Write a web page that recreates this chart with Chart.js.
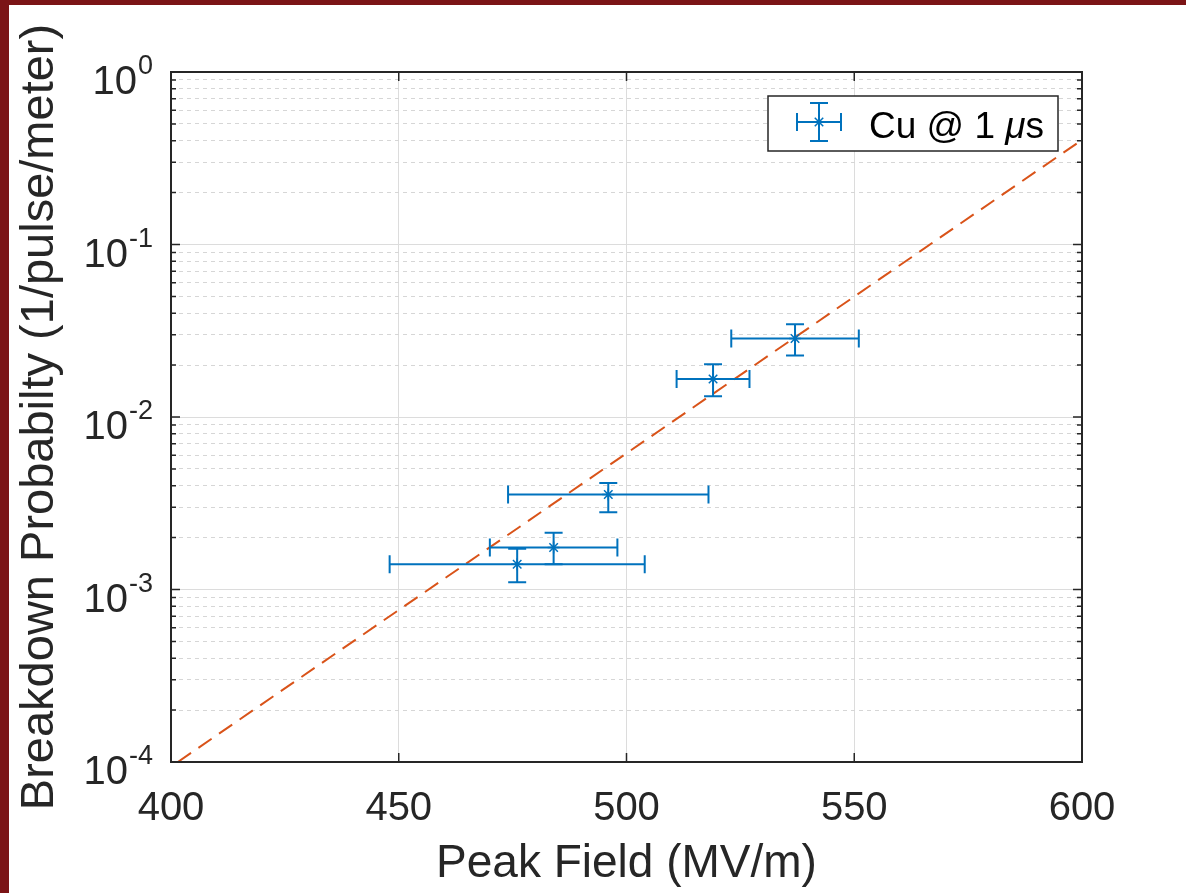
<!DOCTYPE html>
<html><head><meta charset="utf-8">
<script src="https://cdn.jsdelivr.net/npm/chart.js@4.4.1/dist/chart.umd.min.js"></script>
<style>
html,body{margin:0;padding:0;background:#fff;}
#wrap{position:absolute;left:0;top:0;width:1186px;height:893px;box-sizing:border-box;border-left:9px solid #7b1416;border-top:5px solid #7b1416;background:#fff;}
#c{display:block;}
</style></head><body>
<div id="wrap"><canvas id="c" width="1177" height="888"></canvas></div>
<script>
// ---- data ----
const peakField     = [476, 484, 496, 519, 537];
const breakdownProb = [1.40e-3, 1.75e-3, 3.55e-3, 1.66e-2, 2.85e-2];
const fieldLow      = [448, 470, 474, 511, 523];
const fieldHigh     = [504, 498, 518, 527, 551];
const probLow       = [1.10e-3, 1.40e-3, 2.80e-3, 1.32e-2, 2.27e-2];
const probHigh      = [1.72e-3, 2.13e-3, 4.15e-3, 2.02e-2, 3.45e-2];
const fitField      = [401.5, 600];
const fitProb       = [1e-4, 0.404];
const xTickValues   = [400, 450, 500, 550, 600];
const yDecadeExps   = [-4, -3, -2, -1, 0];
const seriesLabel   = 'Cu @ 1 ';
const xTitle = 'Peak Field (MV/m)';
const yTitle = 'Breakdown Probabilty (1/pulse/meter)';

const FONT = '"Liberation Sans", Arial, sans-serif';
const AX = '#262626';
const BLUE = '#0072BD';
const ORANGE = '#D95319';

function isMajor(v){ const l = Math.log10(v); return Math.abs(l - Math.round(l)) < 1e-9; }

const matlabPlugin = {
  id: 'matlab',
  afterDatasetsDraw(chart){
    const {ctx, scales:{x, y}} = chart;
    ctx.save();
    ctx.strokeStyle = BLUE; ctx.lineWidth = 2; ctx.lineCap = 'butt';
    const cap = 9;
    for (let i = 0; i < peakField.length; i++){
      const px = x.getPixelForValue(peakField[i]), py = y.getPixelForValue(breakdownProb[i]);
      const xl = x.getPixelForValue(fieldLow[i]), xh = x.getPixelForValue(fieldHigh[i]);
      const yl = y.getPixelForValue(probLow[i]), yh = y.getPixelForValue(probHigh[i]);
      ctx.beginPath();
      ctx.moveTo(xl, py); ctx.lineTo(xh, py);
      ctx.moveTo(xl, py - cap); ctx.lineTo(xl, py + cap);
      ctx.moveTo(xh, py - cap); ctx.lineTo(xh, py + cap);
      ctx.moveTo(px, yl); ctx.lineTo(px, yh);
      ctx.moveTo(px - cap, yl); ctx.lineTo(px + cap, yl);
      ctx.moveTo(px - cap, yh); ctx.lineTo(px + cap, yh);
      ctx.stroke();
    }
    ctx.restore();
  },
  afterDraw(chart){
    const {ctx, chartArea: ca, scales:{x, y}} = chart;
    ctx.save();
    // axes box
    ctx.strokeStyle = AX; ctx.lineWidth = 2;
    ctx.strokeRect(ca.left, ca.top, ca.right - ca.left, ca.bottom - ca.top);
    // inward tick marks
    ctx.lineWidth = 1.5;
    ctx.beginPath();
    y.ticks.forEach(t => {
      const py = y.getPixelForValue(t.value);
      const len = isMajor(t.value) ? 9 : 5;
      ctx.moveTo(ca.left, py); ctx.lineTo(ca.left + len, py);
      ctx.moveTo(ca.right, py); ctx.lineTo(ca.right - len, py);
    });
    x.ticks.forEach(t => {
      const px = x.getPixelForValue(t.value);
      ctx.moveTo(px, ca.bottom); ctx.lineTo(px, ca.bottom - 9);
      ctx.moveTo(px, ca.top); ctx.lineTo(px, ca.top + 9);
    });
    ctx.stroke();
    // y tick labels 10^n
    ctx.fillStyle = AX;
    ctx.textAlign = 'right'; ctx.textBaseline = 'alphabetic';
    const xr = ca.left - 18;
    yDecadeExps.forEach(e => {
      const py = y.getPixelForValue(Math.pow(10, e));
      const exp = String(e);
      ctx.font = '27px ' + FONT;
      const w = ctx.measureText(exp).width;
      ctx.fillText(exp, xr, py + 2);
      ctx.font = '40px ' + FONT;
      ctx.fillText('10', xr - w - 1, py + 22);
    });
    // legend
    const lx = 759, ly = 91, lw = 290, lh = 55;
    ctx.fillStyle = '#fff';
    ctx.fillRect(lx, ly, lw, lh);
    ctx.strokeStyle = AX; ctx.lineWidth = 1.5;
    ctx.strokeRect(lx, ly, lw, lh);
    const cx = 810, cy = 117;
    ctx.strokeStyle = BLUE; ctx.lineWidth = 2;
    ctx.beginPath();
    ctx.moveTo(cx - 22, cy); ctx.lineTo(cx + 22, cy);
    ctx.moveTo(cx - 22, cy - 9); ctx.lineTo(cx - 22, cy + 9);
    ctx.moveTo(cx + 22, cy - 9); ctx.lineTo(cx + 22, cy + 9);
    ctx.moveTo(cx, cy - 19); ctx.lineTo(cx, cy + 19);
    ctx.moveTo(cx - 9, cy - 19); ctx.lineTo(cx + 9, cy - 19);
    ctx.moveTo(cx - 9, cy + 19); ctx.lineTo(cx + 9, cy + 19);
    ctx.stroke();
    ctx.lineWidth = 1.5;
    ctx.beginPath();
    const r = 6, d = r * Math.SQRT1_2;
    ctx.moveTo(cx - r, cy); ctx.lineTo(cx + r, cy);
    ctx.moveTo(cx, cy - r); ctx.lineTo(cx, cy + r);
    ctx.moveTo(cx - d, cy - d); ctx.lineTo(cx + d, cy + d);
    ctx.moveTo(cx - d, cy + d); ctx.lineTo(cx + d, cy - d);
    ctx.stroke();
    ctx.fillStyle = '#000';
    ctx.textAlign = 'left';
    ctx.font = '37px ' + FONT;
    let tx = 860;
    ctx.fillText(seriesLabel, tx, 133);
    tx += ctx.measureText(seriesLabel).width;
    ctx.font = 'italic 37px ' + FONT;
    ctx.fillText('\u03BC', tx, 133);
    tx += ctx.measureText('\u03BC').width;
    ctx.font = '37px ' + FONT;
    ctx.fillText('s', tx, 133);
    ctx.restore();
  }
};

new Chart(document.getElementById('c'), {
  type: 'scatter',
  data: {
    datasets: [
      {
        label: 'Cu @ 1 \u03BCs',
        data: peakField.map((v, i) => ({x: v, y: breakdownProb[i]})),
        pointStyle: 'star', pointRadius: 6, borderWidth: 1.5,
        borderColor: BLUE, backgroundColor: BLUE, showLine: false, order: 0
      },
      {
        label: 'fit',
        data: fitField.map((v, i) => ({x: v, y: fitProb[i]})),
        showLine: true, borderColor: ORANGE, borderWidth: 2, borderDash: [16, 9],
        pointRadius: 0, fill: false, order: 1
      }
    ]
  },
  options: {
    responsive: false,
    animation: false,
    layout: {padding: {left: 0, top: 67, right: 104, bottom: 0}},
    plugins: {legend: {display: false}, tooltip: {enabled: false}},
    scales: {
      x: {
        type: 'linear', min: 400, max: 600,
        afterBuildTicks: s => { s.ticks = xTickValues.map(v => ({value: v})); },
        afterFit: s => { s.height = 131; },
        grid: {
          color: c => (c.tick && (c.tick.value === 400 || c.tick.value === 600)) ? 'rgba(0,0,0,0)' : '#dcdcdc',
          lineWidth: 1, drawTicks: false
        },
        border: {display: false},
        ticks: {font: {family: FONT, size: 40}, color: AX, padding: 23, maxRotation: 0, autoSkip: false},
        title: {display: true, text: xTitle, color: AX, font: {family: FONT, size: 46, lineHeight: 1.2}, padding: {top: 0, bottom: 1}}
      },
      y: {
        type: 'logarithmic', min: 1e-4, max: 1,
        afterBuildTicks: s => {
          const t = [];
          for (let e = -4; e < 0; e++) for (let m = 1; m <= 9; m++) t.push({value: m * Math.pow(10, e)});
          t.push({value: 1});
          s.ticks = t;
        },
        afterFit: s => { s.width = 162; },
        grid: {
          color: c => (c.tick && isMajor(c.tick.value)) ? '#dcdcdc' : '#d6d6d6',
          lineWidth: 1, drawTicks: false
        },
        border: {display: false, dash: c => (c.tick && !isMajor(c.tick.value)) ? [4, 4] : []},
        ticks: {display: false},
        title: {display: true, text: yTitle, color: AX, font: {family: FONT, size: 47, lineHeight: 1.2}, padding: {top: 3, bottom: 0}}
      }
    }
  },
  plugins: [matlabPlugin]
});
</script>
</body></html>
